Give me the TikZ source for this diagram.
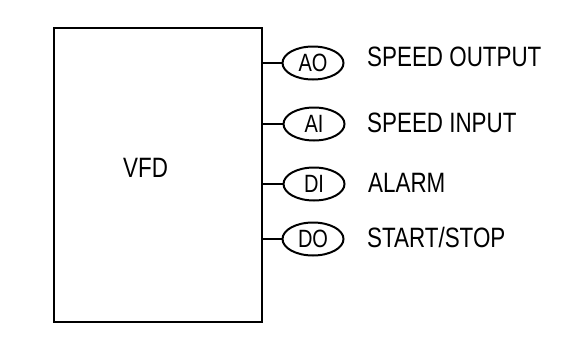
\documentclass[tikz,border=0pt]{standalone}
\usepackage{fontspec}
\setmainfont{Liberation Sans}[FakeStretch=0.8]
\usepackage{tikz}
\usetikzlibrary{positioning,shapes.geometric,calc}
\tikzset{
  % --- nodes
  drive/.style = {draw, line width=2.6pt, minimum width=208pt, minimum height=294pt,
                  inner sep=0pt},
  io/.style    = {ellipse, draw, line width=2pt, minimum width=61pt, minimum height=33pt,
                  inner sep=0pt, font=\fontsize{25}{25}\selectfont},
  sig/.style   = {anchor=base west, inner sep=0pt, font=\fontsize{28}{28}\selectfont},
  % --- edges
  wire/.style  = {line width=2.4pt},
}
\begin{document}
\begin{tikzpicture}[x=1pt,y=-1pt]
  \useasboundingbox (0,0) rectangle (566,346);
  \node[drive] (vfd) at (158,175) {};
  \node[sig] (vfdlbl) at (123,177) {VFD};
  \node[io] (ao) at (313,63) {AO};
  \node[io] (ai) at (314,124) {AI};
  \node[io] (di) at (314,184) {DI};
  \node[io] (do) at (313,239) {DO};
  \node[sig] (aol) at (367,66.5) {SPEED OUTPUT};
  \node[sig] (ail) at (367,132) {SPEED INPUT};
  \node[sig] (dil) at (368,192) {ALARM};
  \node[sig] (dol) at (367,247) {START/STOP};
  \foreach \n in {ao,ai,di,do}
    \draw[wire] (vfd.east |- \n.west) -- (\n.west);
\end{tikzpicture}
\end{document}
